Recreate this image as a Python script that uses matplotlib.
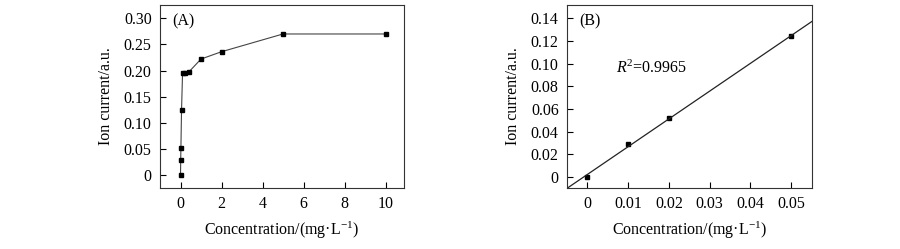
import matplotlib
matplotlib.use("Agg")
import matplotlib.pyplot as plt
import numpy as np

plt.rcParams['font.family'] = ['Liberation Serif', 'DejaVu Serif']
plt.rcParams['mathtext.fontset'] = 'custom'
plt.rcParams['mathtext.rm'] = 'Liberation Serif'
plt.rcParams['mathtext.it'] = 'Liberation Serif:italic'

# Panel A data
conc_a = [0, 0.01, 0.02, 0.05, 0.1, 0.2, 0.4, 1, 2, 5, 10]
curr_a = [0.0, 0.029, 0.052, 0.124, 0.195, 0.196, 0.197, 0.222, 0.236, 0.270, 0.270]
xticks_a = [0, 2, 4, 6, 8, 10]
yticks_a = [0, 0.05, 0.10, 0.15, 0.20, 0.25, 0.30]
ylabels_a = ['0', '0.05', '0.10', '0.15', '0.20', '0.25', '0.30']

# Panel B data
conc_b = [0, 0.01, 0.02, 0.05]
curr_b = [0.0, 0.029, 0.052, 0.124]
xticks_b = [0, 0.01, 0.02, 0.03, 0.04, 0.05]
xlabels_b = ['0', '0.01', '0.02', '0.03', '0.04', '0.05']
yticks_b = [0, 0.02, 0.04, 0.06, 0.08, 0.10, 0.12, 0.14]
ylabels_b = ['0', '0.02', '0.04', '0.06', '0.08', '0.10', '0.12', '0.14']

fig = plt.figure(figsize=(9, 2.49), dpi=100)
W, H = 900, 249
axA = fig.add_axes([160 / W, 1 - 188 / H, (404 - 160) / W, (188 - 5) / H])
axB = fig.add_axes([567 / W, 1 - 188 / H, (812 - 567) / W, (188 - 5) / H])

fs = 11.5
lfs = 11.5
xlab = 'Concentration/(mg·L$^{-1}$)'

axA.plot(conc_a, curr_a, color='#444444', lw=0.8, marker='s', ms=3.2,
         mfc='black', mec='black')
axA.set_xlim(-1, 10.9)
axA.set_ylim(-0.025, 0.3255)
axA.set_xticks(xticks_a)
axA.set_yticks(yticks_a)
axA.set_yticklabels(ylabels_a)
axA.text(0.05, 0.955, '(A)', transform=axA.transAxes, ha='left', va='top', fontsize=fs)

axB.plot(conc_b, curr_b, linestyle='none', marker='s', ms=3.2, mfc='black', mec='black')
k, b = np.polyfit(conc_b, curr_b, 1)
xl = np.array([-0.005, 0.0551])
axB.plot(xl, k * xl + b, color='#222222', lw=0.9)
axB.set_xlim(-0.005, 0.0551)
axB.set_ylim(-0.0097, 0.1517)
axB.set_xticks(xticks_b)
axB.set_xticklabels(xlabels_b)
axB.set_yticks(yticks_b)
axB.set_yticklabels(ylabels_b)
axB.text(0.05, 0.955, '(B)', transform=axB.transAxes, ha='left', va='top', fontsize=fs)
axB.text(0.0069, 0.096, '$R$$^{2}$=0.9965', fontsize=fs, ha='left', va='center')

for ax in (axA, axB):
    ax.tick_params(direction='in', length=4, width=0.8, labelsize=fs, pad=6,
                   top=False, right=False)
    for s in ax.spines.values():
        s.set_linewidth(0.8)
        s.set_color('#333333')
    ax.set_xlabel(xlab, fontsize=lfs, labelpad=5)
    ax.set_ylabel('Ion current/a.u.', fontsize=lfs, labelpad=7)

fig.savefig('out.png', dpi=100)
